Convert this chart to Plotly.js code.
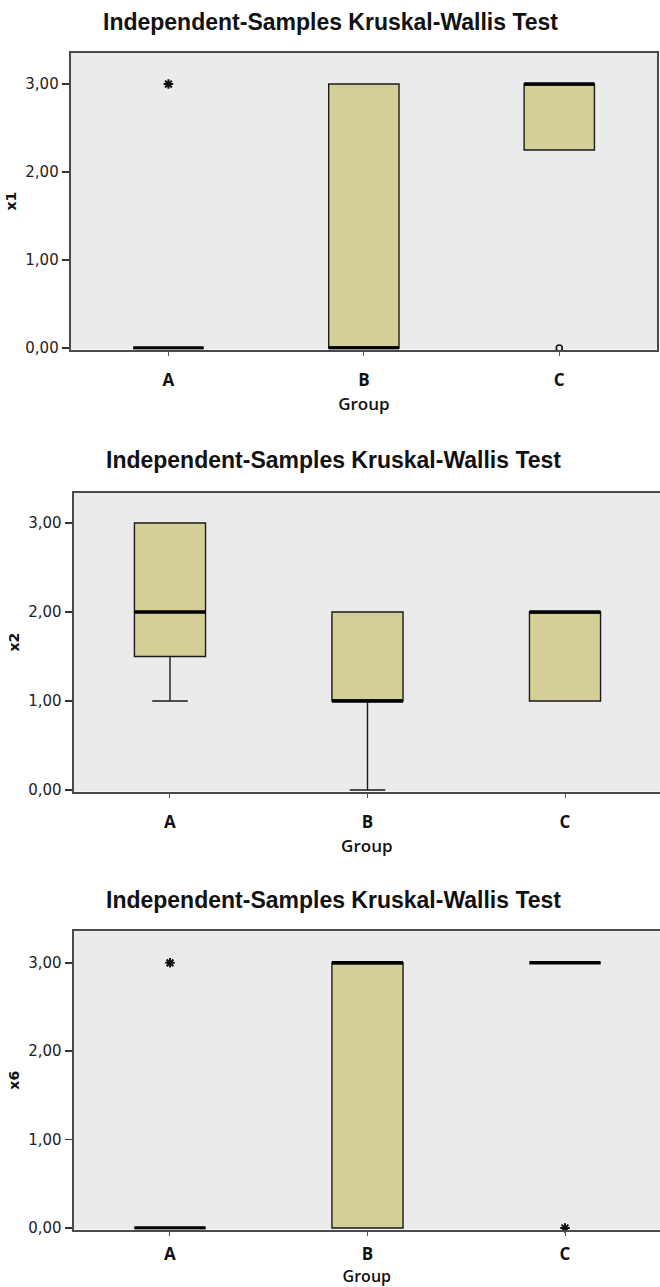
<!DOCTYPE html>
<html>
<head>
<meta charset="utf-8">
<script src="https://cdn.plot.ly/plotly-3.0.1.min.js"></script>
<style>html,body{margin:0;padding:0;background:#ffffff;}</style>
</head>
<body>
<div id="chart" style="width:660px;height:1287px;"></div>
<script>
// ---------- data ----------
const groups = ['A', 'B', 'C'];
const chartTitle = 'Independent-Samples Kruskal-Wallis Test';
const xTitle = 'Group';
const yTickVals = [0, 1, 2, 3];
const yTickText = ['0,00', '1,00', '2,00', '3,00'];

// x1
const x1_q1 = [0, 0, 2.25];
const x1_median = [0, 0, 3];
const x1_q3 = [0, 3, 3];
const x1_lowerWhisker = [0, 0, 2.25];
const x1_upperWhisker = [0, 3, 3];
const x1_extremeGroups = ['A'];
const x1_extremeValues = [3];
const x1_outlierGroups = ['C'];
const x1_outlierValues = [0];

// x2
const x2_q1 = [1.5, 1, 1];
const x2_median = [2, 1, 2];
const x2_q3 = [3, 2, 2];
const x2_lowerWhisker = [1, 0, 1];
const x2_upperWhisker = [3, 2, 2];

// x6
const x6_q1 = [0, 0, 3];
const x6_median = [0, 3, 3];
const x6_q3 = [0, 3, 3];
const x6_lowerWhisker = [0, 0, 3];
const x6_upperWhisker = [0, 3, 3];
const x6_extremeGroups = ['A', 'C'];
const x6_extremeValues = [3, 0];

// ---------- styling ----------
const W = 660, H = 1287;
const BOX_FILL = '#d3cf97';
const BG = '#ebebeb';
const BORDER = '#4a4a4a';
const BOX_W = 0.36;

function xd(a, b) { return [a / W, Math.min(1, b / W)]; }
function yd(top, bottom) { return [1 - bottom / H, 1 - top / H]; }

function boxTraces(ax, ay, q1, med, q3, lo, hi) {
  return [
    {
      type: 'box', x: groups, q1: q1, median: med, q3: q3,
      lowerfence: lo, upperfence: hi,
      xaxis: ax, yaxis: ay, width: BOX_W, whiskerwidth: 0.5,
      fillcolor: BOX_FILL, line: { color: '#1a1a1a', width: 1.4 },
      boxpoints: false, hoverinfo: 'skip', showlegend: false
    },
    {
      type: 'box', x: groups, q1: med, median: med, q3: med,
      lowerfence: med, upperfence: med,
      xaxis: ax, yaxis: ay, width: BOX_W, whiskerwidth: 0,
      fillcolor: 'rgba(0,0,0,0)', line: { color: '#000000', width: 3.5 },
      boxpoints: false, hoverinfo: 'skip', showlegend: false
    }
  ];
}
function pointTrace(ax, ay, xs, ys, symbol) {
  return {
    type: 'scatter', mode: 'markers', x: xs, y: ys, xaxis: ax, yaxis: ay,
    cliponaxis: false, hoverinfo: 'skip', showlegend: false,
    marker: symbol === 'star'
      ? { symbol: 'asterisk-open', size: 8, color: '#111', line: { width: 2, color: '#111' } }
      : { symbol: 'circle-open', size: 6, color: '#111', line: { width: 1.6, color: '#111' } }
  };
}

const data = [].concat(
  boxTraces('x', 'y', x1_q1, x1_median, x1_q3, x1_lowerWhisker, x1_upperWhisker),
  [pointTrace('x', 'y', x1_extremeGroups, x1_extremeValues, 'star'),
   pointTrace('x', 'y', x1_outlierGroups, x1_outlierValues, 'circle')],
  boxTraces('x2', 'y2', x2_q1, x2_median, x2_q3, x2_lowerWhisker, x2_upperWhisker),
  boxTraces('x3', 'y3', x6_q1, x6_median, x6_q3, x6_lowerWhisker, x6_upperWhisker),
  [pointTrace('x3', 'y3', x6_extremeGroups, x6_extremeValues, 'star')]
);

function xAxis(domain, range, anchor, labelGap, titleGap, titleSize) {
  return {
    domain: domain, range: range, anchor: anchor, type: 'category',
    categoryorder: 'array', categoryarray: groups,
    showline: true, mirror: true, linecolor: BORDER, linewidth: 2,
    ticks: 'outside', ticklen: 4, tickwidth: 1, tickcolor: '#555',
    ticklabelstandoff: labelGap,
    tickfont: { family: 'Open Sans, sans-serif', size: 17, weight: 700, color: '#111' },
    title: { text: xTitle, standoff: titleGap, font: { family: 'Open Sans, sans-serif', size: titleSize, weight: 600, color: '#111' } },
    showgrid: false, zeroline: false, fixedrange: true
  };
}
function yAxis(domain, range, anchor, label, mirror) {
  return {
    domain: domain, range: range, anchor: anchor,
    tickvals: yTickVals, ticktext: yTickText,
    showline: true, mirror: mirror, linecolor: BORDER, linewidth: 2,
    ticks: 'outside', ticklen: 7, tickwidth: 1.5, tickcolor: '#333',
    tickfont: { family: 'DejaVu Sans, sans-serif', size: 15, color: '#222' },
    title: { text: label, standoff: 5, font: { family: 'DejaVu Sans, sans-serif', size: 14, weight: 700, color: '#111' } },
    showgrid: false, zeroline: false, fixedrange: true
  };
}

const titleFont = { family: 'Liberation Sans, Arial, sans-serif', size: 23, weight: 700, color: '#111' };

const layout = {
  width: W, height: H,
  margin: { l: 0, r: 0, t: 0, b: 0 },
  paper_bgcolor: '#ffffff', plot_bgcolor: BG,
  boxmode: 'overlay', showlegend: false,
  xaxis: xAxis(xd(70.7, 657), [-0.5, 2.5], 'y', 10, 8, 17),
  yaxis: yAxis(yd(52.7, 349.5), [-0.017, 3.356], 'x', 'x1', true),
  xaxis2: xAxis(xd(73.6, 660), [-0.488, 2.481], 'y2', 10, 8, 17),
  yaxis2: yAxis(yd(492.7, 791.5), [-0.017, 3.34], 'x2', 'x2', false),
  xaxis3: xAxis(xd(73.6, 660), [-0.488, 2.481], 'y3', 4, 9, 16),
  yaxis3: yAxis(yd(931, 1229.5), [-0.017, 3.36], 'x3', 'x6', false),
  annotations: [
    { text: chartTitle, xref: 'paper', yref: 'paper', x: 330 / W, y: 1 - 22 / H, xanchor: 'center', yanchor: 'middle', showarrow: false, font: titleFont },
    { text: chartTitle, xref: 'paper', yref: 'paper', x: 333 / W, y: 1 - 460 / H, xanchor: 'center', yanchor: 'middle', showarrow: false, font: titleFont },
    { text: chartTitle, xref: 'paper', yref: 'paper', x: 333 / W, y: 1 - 900 / H, xanchor: 'center', yanchor: 'middle', showarrow: false, font: titleFont }
  ]
};

Plotly.newPlot('chart', data, layout, { staticPlot: true, displayModeBar: false });
</script>
</body>
</html>
